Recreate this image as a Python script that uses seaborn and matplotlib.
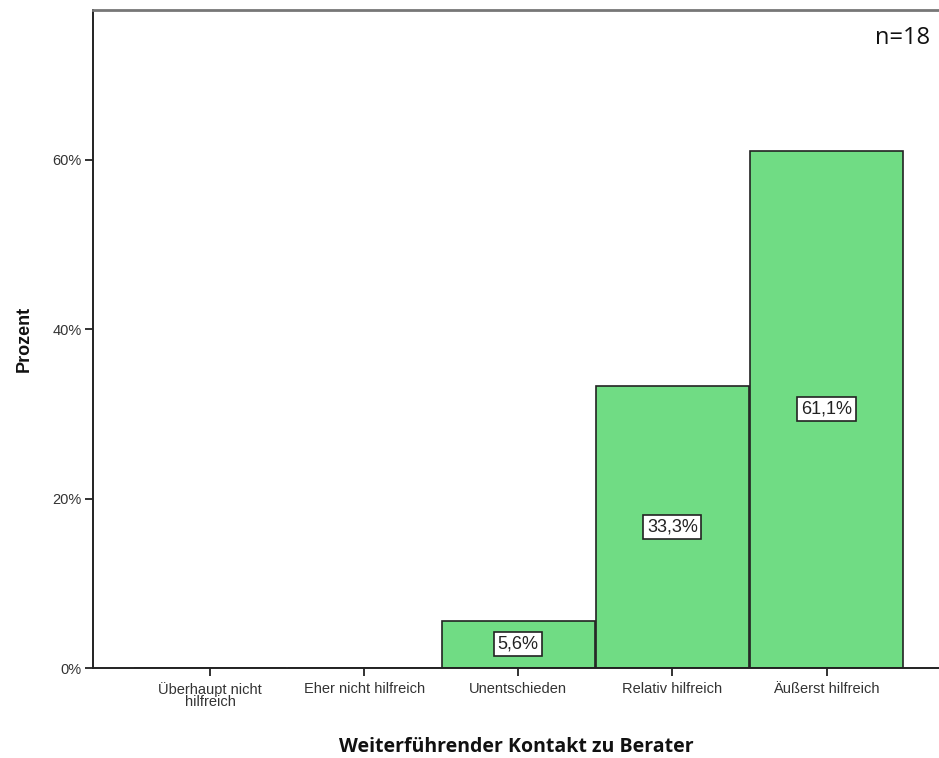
import matplotlib
matplotlib.use("Agg")
import matplotlib.pyplot as plt
import pandas as pd
import seaborn as sns

categories = ["Überhaupt nicht\nhilfreich", "Eher nicht hilfreich", "Unentschieden",
              "Relativ hilfreich", "Äußerst hilfreich"]
percent = [0.0, 0.0, 5.6, 33.3, 61.1]
value_labels = ["", "", "5,6%", "33,3%", "61,1%"]
y_ticks = [0, 20, 40, 60]
y_tick_labels = ["0%", "20%", "40%", "60%"]

sns.set_style("white")
plt.rcParams["font.family"] = ["Liberation Sans", "DejaVu Sans"]

df = pd.DataFrame({"Kategorie": categories, "Prozent": percent})

fig = plt.figure(figsize=(9.39, 7.58), dpi=100)
ax = fig.add_axes([93 / 939, 1 - 668 / 758, 1 - 93 / 939, (668 - 10) / 758])

sns.barplot(data=df, x="Kategorie", y="Prozent", color="#70DC84", saturation=1,
            width=0.99, edgecolor="#222222", linewidth=1.2, ax=ax)

for i, (v, lab) in enumerate(zip(percent, value_labels)):
    if lab:
        ax.text(i, v / 2, lab, ha="center", va="center", fontsize=13, color="#222222",
                bbox=dict(boxstyle="square,pad=0.2", fc="white", ec="#222222", lw=1.2))

ax.set_xlim(-0.76, 4.73)
ax.set_ylim(0, 77.7)
ax.set_yticks(y_ticks)
ax.set_yticklabels(y_tick_labels, fontsize=10.5, color="#333333")
ax.tick_params(axis="x", bottom=True, labelsize=10.5, color="#222222", labelcolor="#333333",
               length=6, width=1.3, direction="out", pad=4)
ax.tick_params(axis="y", left=True, color="#222222", length=6, width=1.3, direction="out", pad=2)
for t in ax.get_xticklabels():
    t.set_linespacing(0.85)

ax.set_xlabel("Weiterführender Kontakt zu Berater", fontsize=14, fontweight="bold",
              family=["Open Sans", "DejaVu Sans"], labelpad=20, color="#111111")
ax.set_ylabel("Prozent", fontsize=13, fontweight="bold", labelpad=14, color="#111111")

ax.spines["left"].set_color("#222222")
ax.spines["left"].set_linewidth(1.4)
ax.spines["bottom"].set_color("#222222")
ax.spines["bottom"].set_linewidth(1.4)
ax.spines["top"].set_color("#777777")
ax.spines["top"].set_linewidth(2)
ax.spines["right"].set_visible(False)

ax.text(0.99, 0.975, "n=18", transform=ax.transAxes, ha="right", va="top", fontsize=17,
        family=["Open Sans", "DejaVu Sans"], color="#111111")

fig.savefig("out.png", dpi=100)
